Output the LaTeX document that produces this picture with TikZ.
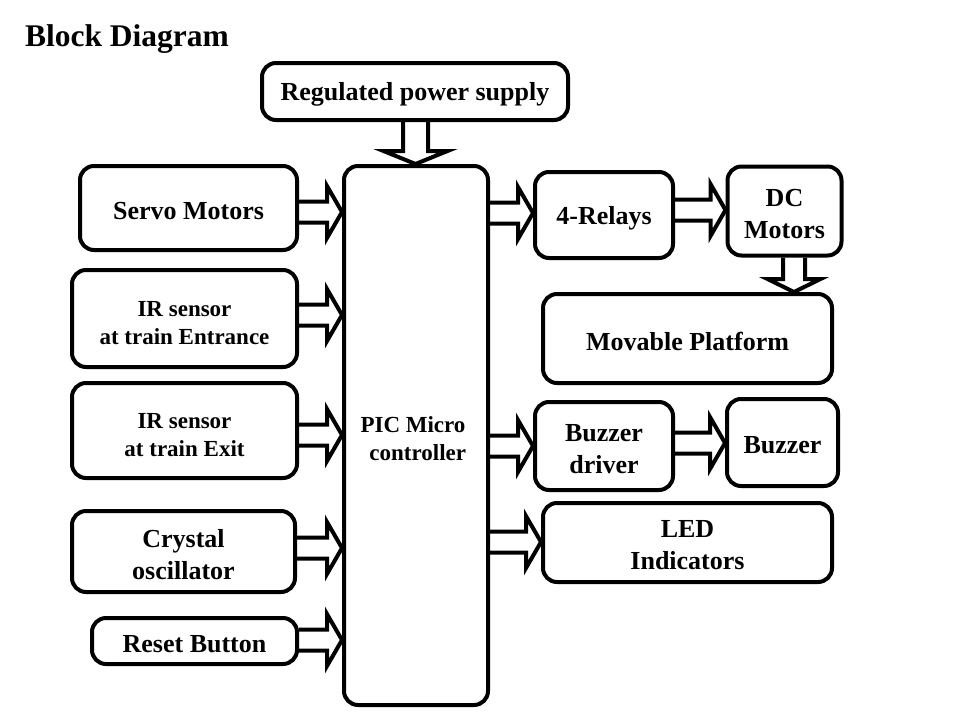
\documentclass[tikz,border=0pt]{standalone}
\usepackage{fontspec}
\setmainfont{Liberation Serif}
\usetikzlibrary{calc}
\tikzset{
  x=1pt,y=-1pt,
  blockbox/.style={draw,line width=4pt,rounded corners=14pt,inner sep=0pt},
  lbl/.style={align=center,font=\fontsize{26}{32}\selectfont\bfseries,yshift=-3pt,inner sep=0pt},
  smalllbl/.style={lbl,font=\fontsize{23}{28}\selectfont\bfseries,yshift=-2pt},
  blk/.style={draw,line width=4pt,line join=miter},
}
% horizontal block arrow from node #1 (east) to node #2 (west) at height #3
\newcommand\rarr[3]{%
  \coordinate (s) at (#1.east |- 0,#3);
  \coordinate (e) at (#2.west |- 0,#3);
  \draw[blk] ($(s)+(0,-10.5)$) -- ($(e)+(-15,-10.5)$) -- ($(e)+(-15,-26)$) -- (e)
    -- ($(e)+(-15,26)$) -- ($(e)+(-15,10.5)$) -- ($(s)+(0,10.5)$);}
% vertical block arrow from node #1 (south) to node #2 (north) at x #3
\newcommand\darr[5]{%
  \coordinate (s) at (#1.south -| #3,0);
  \coordinate (e) at (#2.north -| #3,0);
  \draw[blk] ($(s)+(-#4,0)$) -- ($(e)+(-#4,-13)$) -- ($(e)+(-#5,-13)$) -- (e)
    -- ($(e)+(#5,-13)$) -- ($(e)+(#4,-13)$) -- ($(s)+(#4,0)$);}
\begin{document}
\begin{tikzpicture}
\useasboundingbox (0,0) rectangle (960,720);
\node[font=\fontsize{31.5}{36}\selectfont\bfseries] (title) at (127,39) {Block Diagram};

\node[blockbox,minimum width=306,minimum height=57,label={[lbl]center:Regulated power supply}] (power) at (415,91.5) {};
\node[blockbox,minimum width=144,minimum height=539] (pic) at (416,435.5) {};
\node[smalllbl] (pictext) at (413,434) {PIC Micro\\\ \,controller};

\node[blockbox,minimum width=217,minimum height=84,label={[lbl]center:Servo Motors}] (servo) at (188.5,208) {};
\node[blockbox,minimum width=225,minimum height=97,label={[smalllbl]center:IR sensor\\at train Entrance}] (irent) at (184.5,318.5) {};
\node[blockbox,minimum width=225,minimum height=95,label={[smalllbl]center:IR sensor\\at train Exit}] (irexit) at (184.5,430.5) {};
\node[blockbox,minimum width=223,minimum height=81,label={[lbl]center:Crystal\\oscillator}] (crystal) at (183.5,551.5) {};
\node[blockbox,minimum width=205,minimum height=46,label={[lbl]center:Reset Button}] (reset) at (194.5,641) {};

\node[blockbox,minimum width=138,minimum height=86,label={[lbl]center:4-Relays}] (relays) at (604,215) {};
\node[blockbox,minimum width=114,minimum height=89,label={[lbl]center:DC\\Motors}] (dc) at (784.5,211) {};
\node[blockbox,minimum width=289,minimum height=89,label={[lbl]center:Movable Platform}] (platform) at (687.5,338.5) {};
\node[blockbox,minimum width=138,minimum height=88,label={[lbl]center:Buzzer\\driver}] (driver) at (604,446) {};
\node[blockbox,minimum width=111,minimum height=87,label={[lbl]center:Buzzer}] (buzzer) at (782.5,442.5) {};
\node[blockbox,minimum width=289,minimum height=79,label={[lbl]center:LED\\Indicators}] (led) at (687.5,542.5) {};

\darr{power}{pic}{415.5}{12.5}{32}
\darr{dc}{platform}{794}{11}{26.5}

\rarr{servo}{pic}{212}
\rarr{irent}{pic}{315}
\rarr{irexit}{pic}{435}
\rarr{crystal}{pic}{548}
\rarr{reset}{pic}{640}

\rarr{pic}{relays}{213}
\rarr{relays}{dc}{210}
\rarr{pic}{driver}{446}
\rarr{driver}{buzzer}{443}
\rarr{pic}{led}{542}
\end{tikzpicture}
\end{document}
